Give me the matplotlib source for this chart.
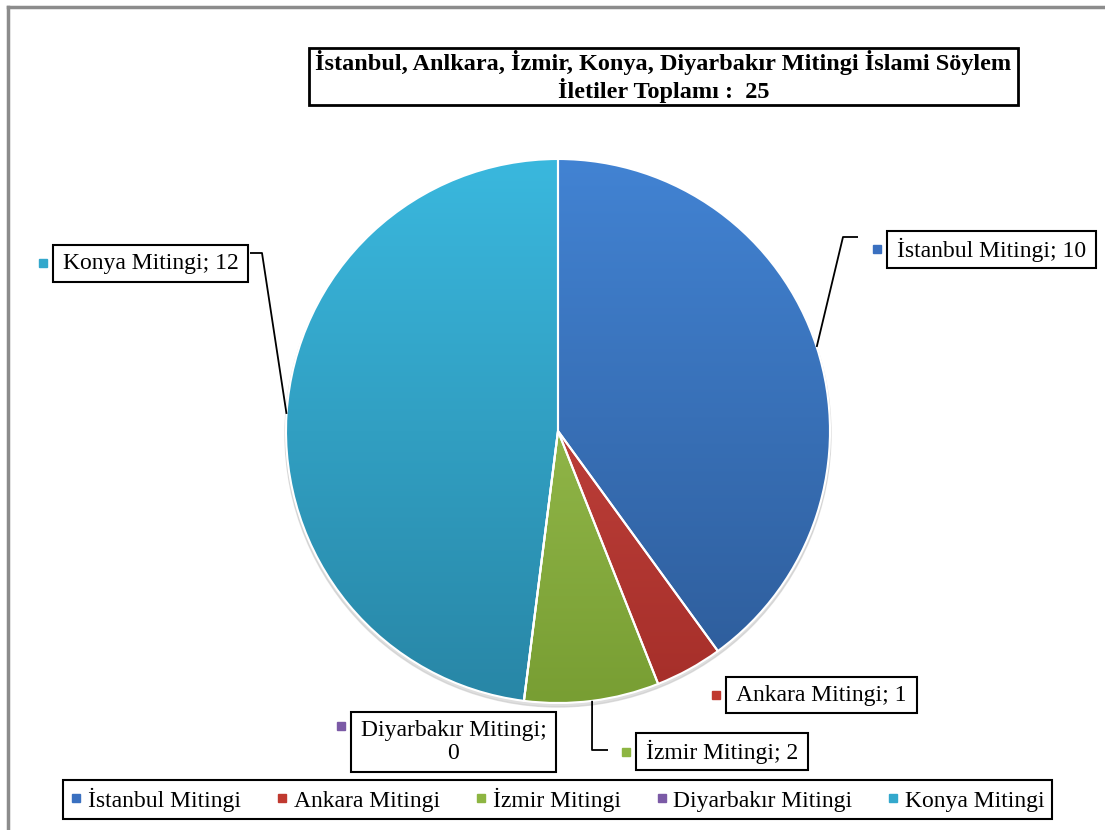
import numpy as np
import matplotlib.pyplot as plt
from matplotlib.lines import Line2D
from matplotlib.patches import Rectangle
from matplotlib.colors import to_rgb

# data
categories = ["İstanbul Mitingi", "Ankara Mitingi", "İzmir Mitingi",
              "Diyarbakır Mitingi", "Konya Mitingi"]
values = [10, 1, 2, 0, 12]
top_colors = ["#4283d3", "#d24f48", "#a8cc5c", "#8a68b3", "#3ab8de"]
bottom_colors = ["#2d5b98", "#a52e29", "#789e33", "#6a4a93", "#2886a6"]
marker_colors = ["#3a70c0", "#c0392f", "#8db542", "#7b5aa6", "#33a8cc"]
title_text = ("İstanbul, Anlkara, İzmir, Konya, Diyarbakır Mitingi İslami Söylem\n"
              "İletiler Toplamı :  25")
label_texts = [f"{c}; {v}" for c, v in zip(categories, values)]
label_texts[3] = "Diyarbakır Mitingi;\n0"

# layout in image pixels (y measured from top)
W, H = 1105, 830
cx, cy, r = 558, 431, 272
title_box = (309, 48, 1018, 105)
label_boxes = [(887, 231, 1096, 268), (726, 677, 917, 713), (636, 733, 808, 770),
               (351, 712, 556, 772), (53, 245, 248, 282)]
leader_knees = [[(843, 237), (858, 237)], None, [(592, 750), (608, 750)],
                None, [(262, 253), (250, 253)]]
FONT = "Liberation Serif"


def Y(py):
    return H - py


fig = plt.figure(figsize=(W / 100, H / 100), dpi=100)
ax = fig.add_axes([0, 0, 1, 1])

# faint shadow under the pie
shadow = plt.Circle((cx, Y(cy) - 3), r + 1, color="#c8c8c8", alpha=0.6, zorder=1)
ax.add_patch(shadow)

wedges, _ = ax.pie(values, startangle=90, counterclock=False,
                   center=(cx, Y(cy)), radius=r,
                   wedgeprops=dict(edgecolor="white", linewidth=1.5))

# vertical gradient fill, Office style
t = np.linspace(0, 1, 256)[:, None, None]
for w, ct, cb in zip(wedges, top_colors, bottom_colors):
    ct, cb = np.array(to_rgb(ct)), np.array(to_rgb(cb))
    img = cb + t * (ct - cb)
    im = ax.imshow(img, extent=(cx - r, cx + r, Y(cy) - r, Y(cy) + r),
                   origin="lower", aspect="auto", zorder=2, interpolation="bilinear")
    im.set_clip_path(w)
    w.set_facecolor("none")
    w.set_zorder(3)

# data labels with leader lines
vals = np.array(values, dtype=float)
mid = (np.cumsum(vals) - vals / 2) / vals.sum() * 2 * np.pi
for i, (box, txt) in enumerate(zip(label_boxes, label_texts)):
    l, tp, rt, bt = box
    ax.add_patch(Rectangle((l, Y(bt)), rt - l, bt - tp, facecolor="white",
                           edgecolor="black", lw=1.5, zorder=5))
    ax.text((l + rt) / 2, Y((tp + bt) / 2), txt, ha="center", va="center",
            fontsize=17, family=FONT, zorder=6, linespacing=1.15)
    my = (tp + bt) / 2 if i != 3 else tp + 14
    ax.plot(l - 10, Y(my), marker="s", ms=6, color=marker_colors[i],
            linestyle="none", zorder=6)
    if leader_knees[i] is not None:
        ex = cx + r * np.sin(mid[i])
        ey = Y(cy) + r * np.cos(mid[i])
        (k1x, k1y), (k2x, k2y) = leader_knees[i]
        ax.plot([ex, k1x, k2x], [ey, Y(k1y), Y(k2y)], color="black",
                lw=1.3, zorder=4, solid_capstyle="butt")

# title box
l, tp, rt, bt = title_box
ax.add_patch(Rectangle((l, Y(bt)), rt - l, bt - tp, facecolor="white",
                       edgecolor="black", lw=2, zorder=5))
ax.text((l + rt) / 2, Y((tp + bt) / 2), title_text, ha="center", va="center",
        fontsize=17.5, fontweight="bold", family=FONT, zorder=6, linespacing=1.12)

# outer chart frame (only top and left visible)
ax.plot([8, 8], [Y(7), Y(840)], color="#8c8c8c", lw=2.5, zorder=0)
ax.plot([8, 1120], [Y(7), Y(7)], color="#8c8c8c", lw=2.5, zorder=0)

ax.set_xlim(0, W)
ax.set_ylim(0, H)
ax.axis("off")

handles = [Line2D([], [], marker="s", ms=6, color=c, linestyle="none")
           for c in marker_colors]
leg = fig.legend(handles, categories, loc="center", ncol=5,
                 bbox_to_anchor=(63 / W, 1 - 821 / H, 989 / W, 43 / H),
                 mode="expand", frameon=True, fancybox=False, edgecolor="black",
                 framealpha=1, prop=dict(family=FONT, size=17),
                 handlelength=0.5, handletextpad=0.25, borderpad=0.3,
                 borderaxespad=0, columnspacing=1.0)
leg.get_frame().set_linewidth(1.5)

fig.savefig("out.png", dpi=100, facecolor="white")
